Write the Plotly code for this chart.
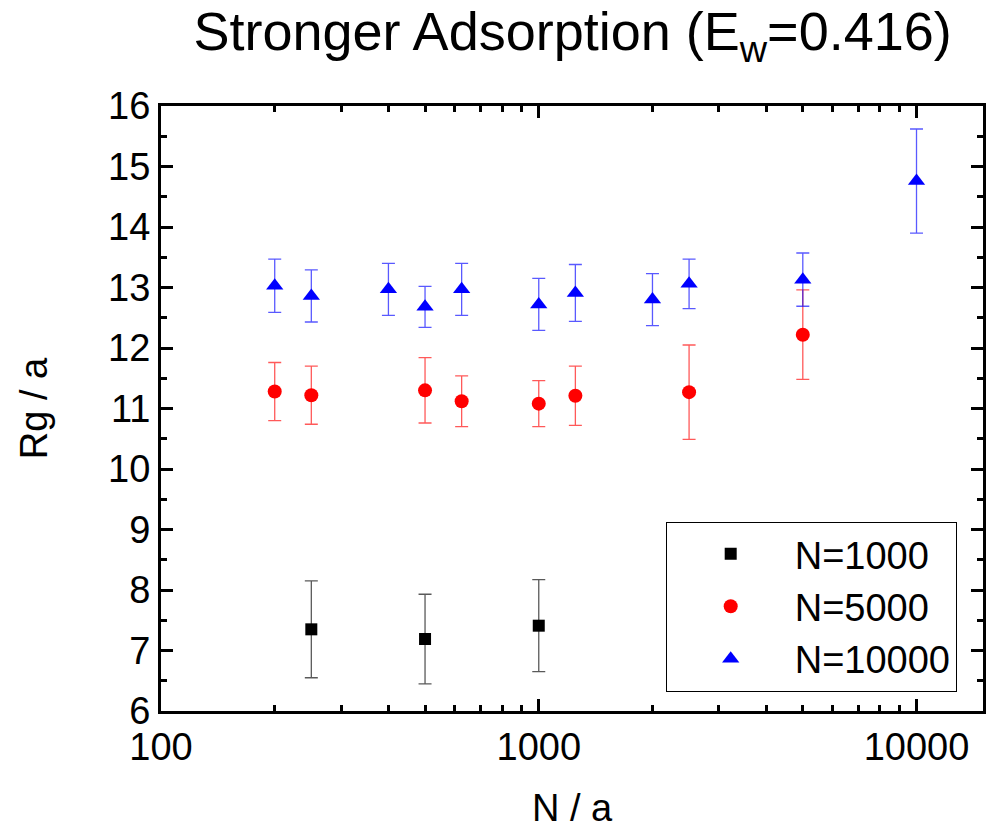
import plotly.graph_objects as go

FONT = "Liberation Sans, Arial, sans-serif"

# N=1000
x1 = [250, 500, 1000]
y1 = [7.35, 7.19, 7.41]
e1 = [0.80, 0.74, 0.76]

# N=5000
x2 = [200, 250, 500, 625, 1000, 1250, 2500, 5000]
y2 = [11.28, 11.22, 11.30, 11.12, 11.08, 11.21, 11.27, 12.22]
e2 = [0.48, 0.48, 0.54, 0.42, 0.38, 0.49, 0.78, 0.74]

# N=10000
x3 = [200, 250, 400, 500, 625, 1000, 1250, 2000, 2500, 5000, 10000]
y3 = [13.03, 12.86, 12.97, 12.68, 12.97, 12.72, 12.91, 12.80, 13.06, 13.13, 14.76]
e3 = [0.44, 0.43, 0.43, 0.34, 0.43, 0.43, 0.47, 0.43, 0.41, 0.44, 0.86]

xticks = [100, 1000, 10000]
xticklabels = ["100", "1000", "10000"]
yticks = list(range(6, 17))

fig = go.Figure()

def add(x, y, e, name, color, ecolor, symbol, size):
    fig.add_trace(go.Scatter(
        x=x, y=y, mode="markers", name=name,
        marker=dict(symbol=symbol, size=size, color=color, line=dict(width=0)),
        error_y=dict(type="data", array=e, visible=True, color=ecolor,
                     thickness=1.3, width=6.5),
    ))

add(x1, y1, e1, "N=1000", "black", "rgba(0,0,0,0.65)", "square", 12)
add(x2, y2, e2, "N=5000", "red", "rgba(255,0,0,0.65)", "circle", 14)
add(x3, y3, e3, "N=10000", "blue", "rgba(0,0,255,0.65)", "triangle-up", 15)

axis_common = dict(
    showline=True, linecolor="black", linewidth=3, mirror="allticks",
    ticks="inside", ticklen=12, tickwidth=2.5, tickcolor="black",
    showgrid=False, zeroline=False,
    tickfont=dict(family=FONT, size=38, color="black"),
    title_font=dict(family=FONT, size=38, color="black"),
)

fig.update_layout(
    width=989, height=830,
    paper_bgcolor="white", plot_bgcolor="white",
    margin=dict(l=161, r=3, t=106, b=119),
    font=dict(family=FONT, color="black"),
    title=dict(text="Stronger Adsorption (E<sub>w</sub>=0.416)",
               x=0.579, xanchor="center", y=0.962, yanchor="middle",
               font=dict(family=FONT, size=54, color="black")),
    xaxis=dict(type="log", range=[2, 4.176],
               tickvals=xticks, ticktext=xticklabels,
               minor=dict(ticks="inside", ticklen=6, tickwidth=2.5, tickcolor="black",
                          dtick="D1", showgrid=False),
               title=dict(text="N / a", standoff=28),
               **axis_common),
    yaxis=dict(range=[6, 16], tickvals=yticks,
               minor=dict(ticks="inside", ticklen=6, tickwidth=2.5, tickcolor="black",
                          dtick=0.5, showgrid=False),
               title=dict(text="Rg / a", standoff=49),
               **axis_common),
    legend=dict(x=0.968, y=0.313, xanchor="right", yanchor="top",
                bordercolor="black", borderwidth=1, bgcolor="white",
                font=dict(family=FONT, size=38, color="black"),
                itemwidth=118, tracegroupgap=0),
    showlegend=True,
)

fig.write_html("out.html")
